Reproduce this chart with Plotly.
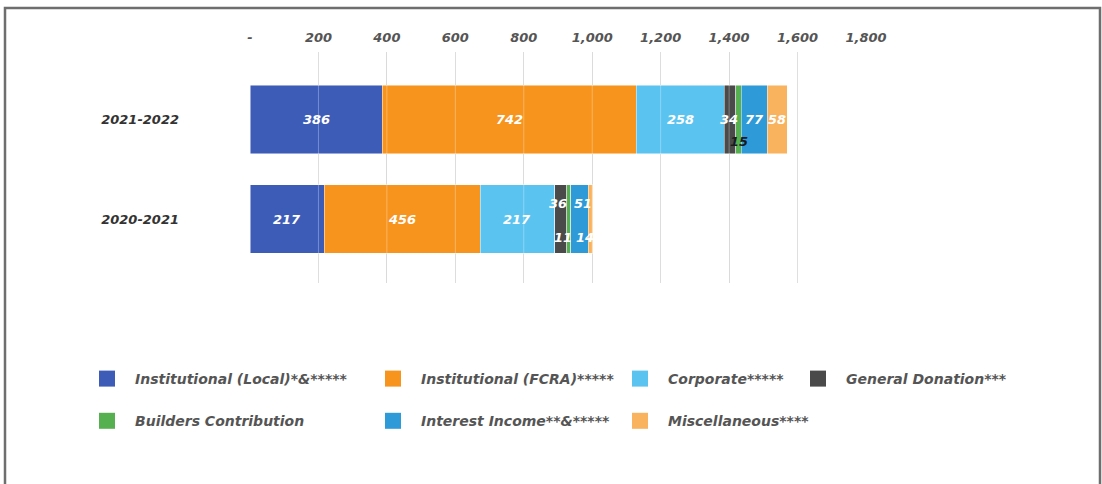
import plotly.graph_objects as go

# ---- data ----
years = ["2020-2021", "2021-2022"]
series_names = [
    "Institutional (Local)*&*****",
    "Institutional (FCRA)*****",
    "Corporate*****",
    "General Donation***",
    "Builders Contribution",
    "Interest Income**&*****",
    "Miscellaneous****",
]
inst_local = [217, 386]
inst_fcra = [456, 742]
corporate = [217, 258]
general_donation = [36, 34]
builders = [11, 15]
interest = [51, 77]
misc = [14, 58]
series_values = [inst_local, inst_fcra, corporate, general_donation, builders, interest, misc]

tick_vals = [0, 200, 400, 600, 800, 1000, 1200, 1400, 1600, 1800]
tick_text = ["-", "200", "400", "600", "800", "1,000", "1,200", "1,400", "1,600", "1,800"]

# ---- style ----
colors = ["#3D5CB8", "#F7941D", "#5BC3F0", "#4A4A4A", "#57B04F", "#2E9AD8", "#F9B25D"]
legend_col = [1, 2, 3, 4, 1, 2, 3]
legend_x_px = {1: 79, 2: 365, 3: 612, 4: 790}
label_dy = {(3, 0): 0.16, (5, 0): 0.16, (4, 0): -0.19, (6, 0): -0.19, (4, 1): -0.22}
label_dx = {(6, 0): -6, (4, 0): -6, (3, 0): -3, (5, 0): 4, (3, 1): -1}
label_color = {(4, 1): "#1a1a1a"}

W, H = 1102, 484
L, R, T, B = 250, 1102 - 866, 52, 484 - 283
font_family = "'DejaVu Sans', sans-serif"

fig = go.Figure()
for i, (name, vals) in enumerate(zip(series_names, series_values)):
    fig.add_trace(go.Bar(
        y=years, x=vals, orientation="h", name=name,
        marker=dict(color=colors[i], line=dict(width=0.6, color="rgba(255,255,255,0.8)")),
        width=0.69, showlegend=False, hoverinfo="x+name",
    ))
    fig.add_trace(go.Scatter(
        x=[None], y=[None], mode="markers", name=name,
        marker=dict(symbol="square", size=16, color=colors[i]),
        legend="legend" if legend_col[i] == 1 else f"legend{legend_col[i]}",
        legendgroup=name, showlegend=True,
    ))

annotations = []
for yi, yr in enumerate(years):
    cum = 0
    for si, vals in enumerate(series_values):
        v = vals[yi]
        centre = cum + v / 2
        cum += v
        annotations.append(dict(
            x=centre, y=yi + label_dy.get((si, yi), 0), xref="x", yref="y",
            xshift=label_dx.get((si, yi), 0),
            text=f"<b><i>{v}</i></b>", showarrow=False,
            font=dict(size=13, color=label_color.get((si, yi), "white"), family=font_family),
        ))

legend_common = dict(
    orientation="v", xref="container", yref="container",
    yanchor="top", xanchor="left", y=1 - 363 / H,
    font=dict(size=14, color="#555555", family=font_family, style="italic", weight=700),
    bgcolor="rgba(0,0,0,0)", borderwidth=0, tracegroupgap=21,
    traceorder="grouped", itemwidth=46,
)
legends = {}
for c in [1, 2, 3, 4]:
    key = "legend" if c == 1 else f"legend{c}"
    legends[key] = dict(legend_common, x=legend_x_px[c] / W)

PW, PH = W - L - R, H - T - B
shapes = [dict(
    type="rect", xref="paper", yref="paper",
    x0=(5 - L) / PW, x1=(1100 - L) / PW,
    y0=(283 - 495) / PH, y1=(283 - 8) / PH,
    line=dict(color="#6E6E6E", width=2.5), fillcolor="rgba(0,0,0,0)", layer="below",
)]
for tv in tick_vals[1:]:
    shapes.append(dict(
        type="line", xref="x", yref="paper", x0=tv, x1=tv, y0=0, y1=1,
        line=dict(color="rgba(255,255,255,0.3)", width=1), layer="above",
    ))

fig.update_layout(
    width=W, height=H, barmode="stack", bargap=0.3,
    margin=dict(l=L, r=R, t=T, b=B, pad=0, autoexpand=False),
    plot_bgcolor="white", paper_bgcolor="white",
    font=dict(family=font_family),
    annotations=annotations, shapes=shapes,
    **legends,
)
fig.update_xaxes(
    side="top", range=[0, 1800], tickvals=tick_vals, ticktext=tick_text,
    showgrid=True, gridcolor="#D2D2D2", gridwidth=1.2, zeroline=False,
    showline=False, ticks="", ticklabelstandoff=6, automargin=False,
    tickfont=dict(size=13, color="#555555", family=font_family, style="italic", weight=700),
)
fig.update_yaxes(
    type="category", categoryorder="array", categoryarray=years,
    range=[-0.643, 1.678], showgrid=False, zeroline=False, showline=False,
    ticks="", ticklabelstandoff=70, automargin=False,
    tickfont=dict(size=13, color="#333333", family=font_family, style="italic", weight=700),
)

fig.write_html("out.html")
